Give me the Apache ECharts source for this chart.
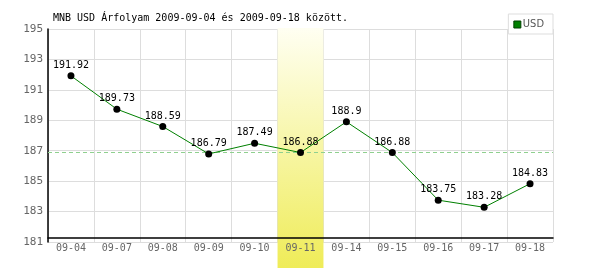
<!DOCTYPE html>
<html>
<head>
<meta charset="utf-8">
<script src="https://cdn.jsdelivr.net/npm/echarts@6/dist/echarts.min.js"></script>
<style>html,body{margin:0;padding:0;background:#fff}#c{width:600px;height:270px}</style>
</head>
<body>
<div id="c"></div>
<script>
var categories = ['09-04','09-07','09-08','09-09','09-10','09-11','09-14','09-15','09-16','09-17','09-18'];
var usdValues = [191.92, 189.73, 188.59, 186.79, 187.49, 186.88, 188.9, 186.88, 183.75, 183.28, 184.83];
var highlightDay = '09-11';
var referenceValue = 186.88;
var yMin = 181, yMax = 195, yStep = 2;
var titleText = 'MNB USD Árfolyam 2009-09-04 és 2009-09-18 között.';
var seriesName = 'USD';

var highlightData = categories.map(function (c) { return c === highlightDay ? 1 : null; });

var mono = '"DejaVu Sans Mono", "Liberation Mono", monospace';
var plotGrid = {left: 48, right: 47, top: 29, bottom: 28};
var chart = echarts.init(document.getElementById('c'), null, {renderer: 'canvas'});
chart.setOption({
  animation: false,
  backgroundColor: '#fff',
  title: {
    text: titleText,
    left: 48, top: 8,
    textStyle: {fontFamily: mono, fontSize: 10, fontWeight: 'normal', color: '#000'}
  },
  legend: {
    data: [seriesName],
    right: 47, top: 14,
    orient: 'vertical',
    backgroundColor: '#fff',
    borderColor: '#ddd', borderWidth: 1,
    padding: [5, 9, 4, 5],
    itemWidth: 7, itemHeight: 7,
    icon: 'rect',
    textStyle: {fontFamily: '"Liberation Sans Narrow", "DejaVu Sans Condensed", sans-serif', fontSize: 11, color: '#555', padding: [0,0,0,-3]},
    itemStyle: {color: '#008000', borderColor: '#004000', borderWidth: 1}
  },
  grid: [
    plotGrid,
    {left: 48, right: 47, top: 28, bottom: 2},
    plotGrid
  ],
  xAxis: [{
    type: 'category', gridIndex: 0, data: categories, boundaryGap: true,
    axisLine: {show: false}, axisTick: {show: false}, axisLabel: {show: false},
    splitLine: {show: true, lineStyle: {color: '#ddd', width: 1}},
    z: 0
  }, {
    type: 'category', gridIndex: 1, data: categories, boundaryGap: true, show: false
  }, {
    type: 'category', gridIndex: 2, data: categories, boundaryGap: true,
    offset: -4,
    axisLine: {show: true, lineStyle: {color: '#000', width: 1.5}},
    axisTick: {show: false},
    axisLabel: {fontFamily: mono, fontSize: 10, color: '#666', margin: 5, interval: 0},
    splitLine: {show: false},
    z: 4
  }],
  yAxis: [{
    type: 'value', gridIndex: 0, min: yMin, max: yMax, interval: yStep,
    axisLine: {show: false}, axisTick: {show: false}, axisLabel: {show: false},
    splitLine: {show: true, lineStyle: {color: '#ddd', width: 1}},
    z: 0
  }, {
    type: 'value', gridIndex: 1, min: 0, max: 1, show: false
  }, {
    type: 'value', gridIndex: 2, min: yMin, max: yMax, interval: yStep,
    axisLine: {show: true, lineStyle: {color: '#000', width: 1.5}},
    axisTick: {show: false},
    axisLabel: {fontFamily: mono, fontSize: 11, color: '#666', margin: 5},
    splitLine: {show: false},
    z: 4
  }],
  series: [{
    name: 'reference',
    type: 'line',
    xAxisIndex: 0, yAxisIndex: 0,
    data: [],
    z: 1,
    markLine: {
      silent: true,
      symbol: 'none',
      label: {show: false},
      lineStyle: {color: '#8fd08f', type: [4, 3], width: 1},
      data: [{yAxis: referenceValue}]
    }
  }, {
    name: 'highlight',
    type: 'bar',
    xAxisIndex: 1, yAxisIndex: 1,
    data: highlightData,
    barWidth: '100%',
    silent: true,
    z: 2,
    itemStyle: {
      color: new echarts.graphic.LinearGradient(0, 0, 0, 1, [
        {offset: 0, color: '#fffff2'},
        {offset: 1, color: '#efec58'}
      ])
    }
  }, {
    name: seriesName,
    type: 'line',
    xAxisIndex: 0, yAxisIndex: 0,
    data: usdValues,
    z: 5,
    symbol: 'circle',
    symbolSize: 7,
    itemStyle: {color: '#000'},
    lineStyle: {color: '#008000', width: 1},
    label: {show: true, position: 'top', distance: 2, fontFamily: mono, fontSize: 10, color: '#000'}
  }]
});
</script>
</body>
</html>
